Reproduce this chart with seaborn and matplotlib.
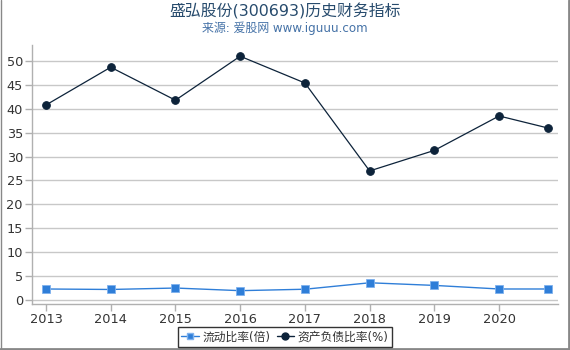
import numpy as np
import pandas as pd
import matplotlib
matplotlib.use("Agg")
import matplotlib.pyplot as plt
import seaborn as sns
from matplotlib.lines import Line2D

# ---- data ----
periods = [2013, 2014, 2015, 2016, 2017, 2018, 2019, 2020, 2020.75]
current_ratio = [2.3, 2.2, 2.5, 1.95, 2.25, 3.6, 3.05, 2.3, 2.3]
debt_ratio = [40.8, 48.7, 41.8, 51.0, 45.4, 27.0, 31.3, 38.5, 36.0]
x_ticks = [2013, 2014, 2015, 2016, 2017, 2018, 2019, 2020]
y_ticks = [0, 5, 10, 15, 20, 25, 30, 35, 40, 45, 50]
series_names = ["流动比率(倍)", "资产负债比率(%)"]
title = "盛弘股份(300693)历史财务指标"
subtitle = "来源: 爱股网 www.iguuu.com"

sns.set_style("white")
plt.rcParams["font.family"] = ["DejaVu Sans", "Noto Sans CJK SC"]

df = pd.DataFrame({
    "x": periods * 2,
    "v": current_ratio + debt_ratio,
    "s": [series_names[0]] * len(periods) + [series_names[1]] * len(periods),
})

blue = "#2f7ed8"
navy = "#0d233a"

fig = plt.figure(figsize=(5.7, 3.5), dpi=100)
ax = fig.add_axes([32 / 570, 1 - 304 / 350, (558 - 32) / 570, (304 - 45) / 350])

sns.lineplot(data=df[df.s == series_names[0]], x="x", y="v", ax=ax, color=blue,
             marker="s", markersize=5.5, markeredgecolor="#7fb2ee", markeredgewidth=0.6,
             linewidth=1.0, legend=False)
sns.lineplot(data=df[df.s == series_names[1]], x="x", y="v", ax=ax, color=navy,
             marker="o", markersize=5.5, markeredgecolor=navy, linewidth=0.9,
             legend=False)

ax.set_xlim(2013 - 0.216, 2020.91)
ax.set_ylim(-0.84, 53.35)
ax.set_xticks(x_ticks)
ax.set_xticklabels([str(t) for t in x_ticks])
ax.set_yticks(y_ticks)
ax.set_xlabel("")
ax.set_ylabel("")
ax.yaxis.grid(True, color="#c8c8c8", linewidth=1)
ax.xaxis.grid(False)
ax.set_axisbelow(True)
for side in ["top", "right"]:
    ax.spines[side].set_visible(False)
for side in ["left", "bottom"]:
    ax.spines[side].set_color("#b0b0b0")
    ax.spines[side].set_linewidth(1)
ax.tick_params(axis="both", which="both", length=5, width=1, color="#b0b0b0",
               labelsize=9.3, labelcolor="#333333", pad=1.5, left=True, bottom=True)

fig.text(0.5, 1 - 11 / 350, title, ha="center", va="center", fontsize=11.4, color="#274b6d")
fig.text(0.5, 1 - 28 / 350, subtitle, ha="center", va="center", fontsize=8.6, color="#4572a7")

handles = [
    Line2D([0], [0], color=blue, marker="s", markersize=5, markeredgecolor="#7fb2ee", linewidth=1),
    Line2D([0], [0], color=navy, marker="o", markersize=5, linewidth=1),
]
leg = fig.legend(handles, series_names, loc="center", bbox_to_anchor=(285 / 570, 1 - 337 / 350),
                 ncol=2, frameon=True, fontsize=8.5, handlelength=1.5, handletextpad=0.3,
                 columnspacing=0.5, borderpad=0.3, fancybox=False)
leg.get_frame().set_edgecolor("black")
leg.get_frame().set_linewidth(1)
for t in leg.get_texts():
    t.set_color("#333333")

# outer frame
fig.add_artist(Line2D([0.5 / 570, 0.5 / 570], [0, 1], transform=fig.transFigure, color="#888888", linewidth=1))
fig.add_artist(Line2D([1 - 1 / 570, 1 - 1 / 570], [0, 1], transform=fig.transFigure, color="#888888", linewidth=2))
fig.add_artist(Line2D([0, 1], [1 / 350, 1 / 350], transform=fig.transFigure, color="#888888", linewidth=2))

fig.savefig("out.png", dpi=100)
